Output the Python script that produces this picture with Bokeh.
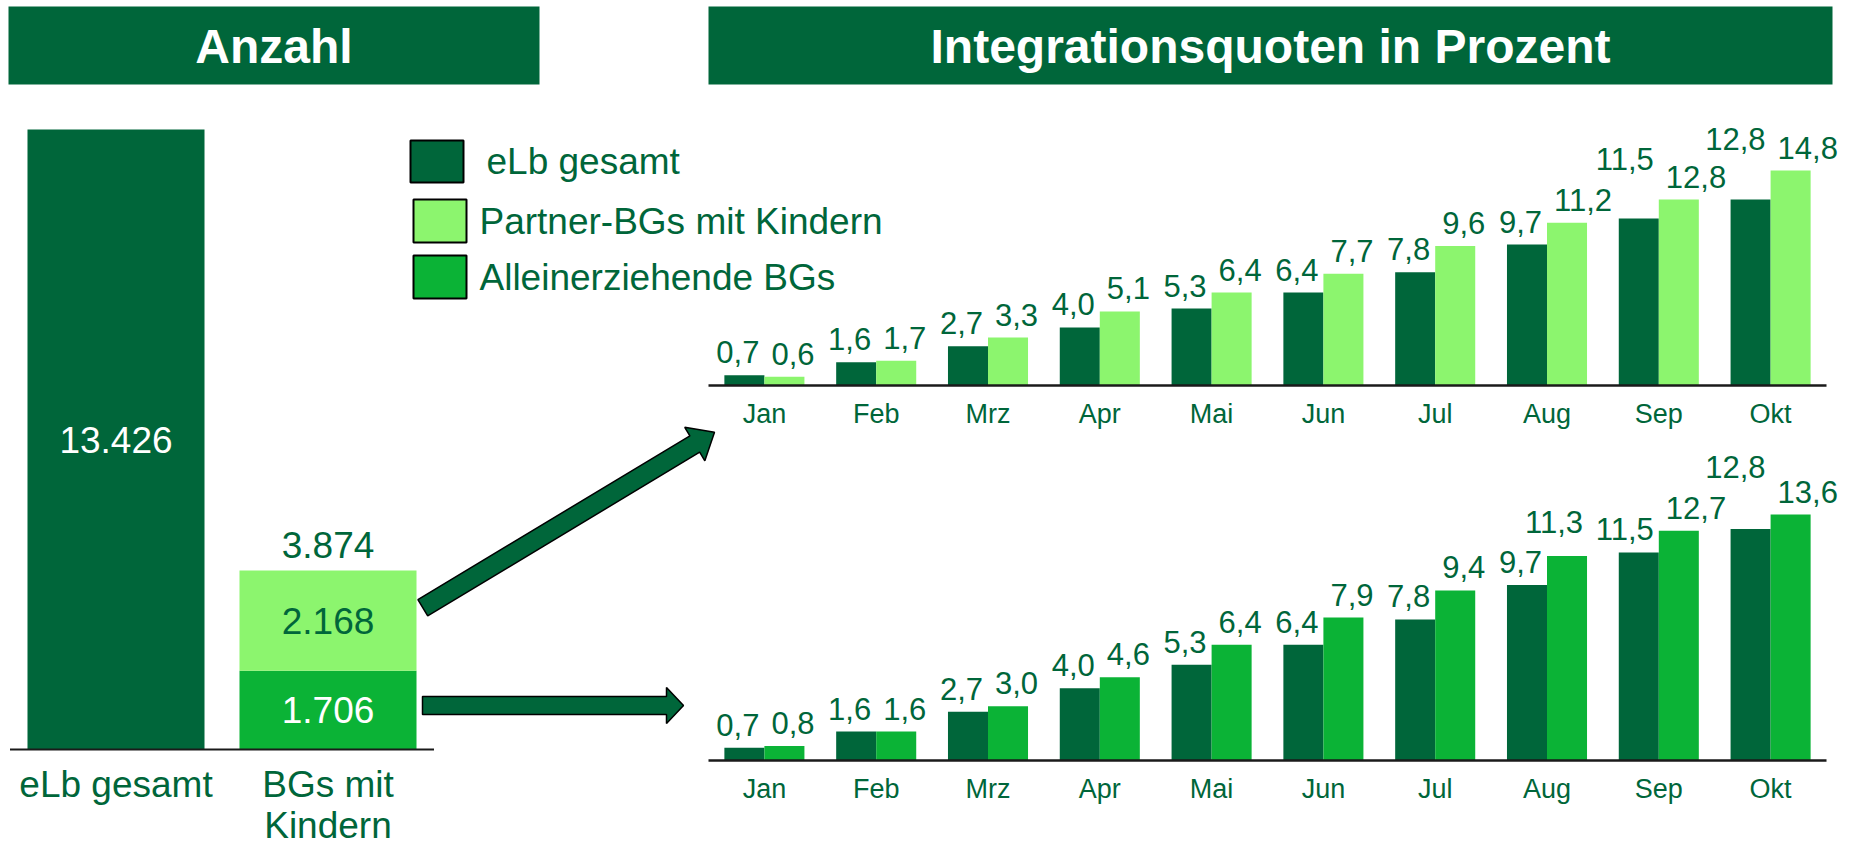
import math
from bokeh.plotting import figure
from bokeh.models import Range1d, ColumnDataSource
from bokeh.core.properties import value
from bokeh.embed import file_html
from bokeh.resources import INLINE

# ---------------- data ----------------
headers = ["Anzahl", "Integrationsquoten in Prozent"]
series_names = ["eLb gesamt", "Partner-BGs mit Kindern", "Alleinerziehende BGs"]
count_categories = ["eLb gesamt", "BGs mit\nKindern"]
count_elb = [13426]
count_allein = [1706]
count_partner = [2168]

months = ["Jan", "Feb", "Mrz", "Apr", "Mai", "Jun", "Jul", "Aug", "Sep", "Okt"]
rate_elb = [0.7, 1.6, 2.7, 4.0, 5.3, 6.4, 7.8, 9.7, 11.5, 12.8]
rate_partner = [0.6, 1.7, 3.3, 5.1, 6.4, 7.7, 9.6, 11.2, 12.8, 14.8]
rate_allein = [0.8, 1.6, 3.0, 4.6, 6.4, 7.9, 9.4, 11.3, 12.7, 13.6]

# ---------------- style / layout ----------------
DARK = "#00663A"
LIGHT = "#8CF56E"
MID = "#0BB336"
INK = "#00663A"
AXIS = "#1a1a1a"
FONT = value("Liberation Sans")
PAGE = 0            # canvas origin on the page
W, H = 1857, 845    # canvas size

def de_int(v):
    return f"{v:,}".replace(",", ".")

def de_dec(v):
    return f"{v:.1f}".replace(".", ",")

def x_map(p0, k):
    """x range so that value v sits at page-x p0 + k*v"""
    start = (PAGE - p0) / k
    return Range1d(start, start + W / k)

def y_map(base, k):
    """y range so that value v sits at page-y base - k*v"""
    start = (base - (PAGE + H)) / k
    return Range1d(start, start + H / k)

p = figure(width=W, height=H, x_range=Range1d(PAGE, PAGE + W),
           y_range=Range1d(PAGE + H, PAGE), output_backend="svg",
           toolbar_location=None, min_border=0, x_axis_location=None,
           y_axis_location=None, outline_line_color=None,
           background_fill_color="white", border_fill_color="white")
p.grid.grid_line_color = None

# chart geometry (page pixels)
LEFT_X0, LEFT_PITCH, LEFT_BASE, LEFT_TOP = 9.5, 212.0, 749.0, 129.0
R_X0, R_PITCH = 708.0, 111.8
TOP_BASE, TOP_TOP = 385.0, 170.0
BOT_BASE, BOT_TOP = 760.0, 514.0

p.extra_x_ranges = {
    "L": x_map(LEFT_X0 + LEFT_PITCH / 2, LEFT_PITCH),
    "R": x_map(R_X0 + R_PITCH / 2, R_PITCH),
}
p.extra_y_ranges = {
    "L": y_map(LEFT_BASE, (LEFT_BASE - LEFT_TOP) / max(count_elb)),
    "T": y_map(TOP_BASE, (TOP_BASE - TOP_TOP) / max(rate_elb + rate_partner)),
    "B": y_map(BOT_BASE, (BOT_BASE - BOT_TOP) / max(rate_elb + rate_allein)),
}

# ---------------- headers ----------------
hdr_boxes = [(8, 539), (708, 1832)]
for (l, r), t in zip(hdr_boxes, headers):
    p.quad(left=[l], right=[r], top=[6], bottom=[84], fill_color=DARK, line_color=None)
    p.text(x=[(l + r) / 2], y=[46], text=[t], text_font=FONT, text_font_size="48px",
           text_font_style="bold", text_color="white", text_align="center",
           text_baseline="middle")

# ---------------- left chart: Anzahl ----------------
cx = [0, 1]
bw = 0.835
p.vbar(x=[cx[0]], bottom=[0], top=count_elb, width=bw, fill_color=DARK, line_color=None,
       x_range_name="L", y_range_name="L")
p.vbar(x=[cx[1]], bottom=[0], top=count_allein, width=bw, fill_color=MID, line_color=None,
       x_range_name="L", y_range_name="L")
p.vbar(x=[cx[1]], bottom=count_allein, top=[count_allein[0] + count_partner[0]], width=bw,
       fill_color=LIGHT, line_color=None, x_range_name="L", y_range_name="L")
p.segment(x0=[-0.5], x1=[1.5], y0=[0], y1=[0], line_color=AXIS, line_width=2,
          x_range_name="L", y_range_name="L")

total_bg = count_allein[0] + count_partner[0]
left_lbl = ColumnDataSource(dict(
    x=[cx[0], cx[1], cx[1]],
    y=[count_elb[0] / 2, count_allein[0] / 2, count_allein[0] + count_partner[0] / 2],
    t=[de_int(count_elb[0]), de_int(count_allein[0]), de_int(count_partner[0])],
    c=["white", "white", INK],
))
p.text(x="x", y="y", text="t", text_color="c", source=left_lbl, text_font=FONT,
       text_font_size="37px", text_align="center", text_baseline="middle",
       x_range_name="L", y_range_name="L")
p.text(x=[cx[1]], y=[total_bg], text=[de_int(total_bg)], text_font=FONT, text_font_size="37px",
       text_color=INK, text_align="center", text_baseline="middle", y_offset=-26,
       x_range_name="L", y_range_name="L")
p.text(x=cx, y=[0, 0], text=count_categories, text_font=FONT, text_font_size="37px",
       text_color=INK, text_align="center", text_baseline="top", y_offset=14,
       text_line_height=1.0, x_range_name="L", y_range_name="L")

# ---------------- legend (drawn) ----------------
leg_boxes = [(410, 463, 140, 182), (413, 466, 199, 242), (413, 466, 255, 298)]
leg_text_x = [486, 479, 479]
for (l, r, t, b), col, name, tx in zip(leg_boxes, [DARK, LIGHT, MID], series_names, leg_text_x):
    p.quad(left=[l], right=[r], top=[t], bottom=[b], fill_color=col, line_color="black",
           line_width=2)
    p.text(x=[tx], y=[(t + b) / 2], text=[name], text_font=FONT, text_font_size="37px",
           text_color=INK, text_align="left", text_baseline="middle")

# ---------------- right charts ----------------
OFF = 0.179
BW = 0.358

def rate_chart(yname, second, second_color, nudges):
    idx = list(range(len(months)))
    xa = [i - OFF for i in idx]
    xb = [i + OFF for i in idx]
    p.vbar(x=xa, top=rate_elb, width=BW, fill_color=DARK, line_color=None,
           x_range_name="R", y_range_name=yname)
    p.vbar(x=xb, top=second, width=BW, fill_color=second_color, line_color=None,
           x_range_name="R", y_range_name=yname)
    p.segment(x0=[-0.5], x1=[len(months) - 0.5], y0=[0], y1=[0], line_color=AXIS,
              line_width=2.5, x_range_name="R", y_range_name=yname)
    p.text(x=idx, y=[0] * len(idx), text=months, text_font=FONT, text_font_size="27px",
           text_color=INK, text_align="center", text_baseline="middle", y_offset=28,
           x_range_name="R", y_range_name=yname)
    for key, xs, vals, align, dx0 in (("a", xa, rate_elb, "right", 15),
                                      ("b", xb, second, "left", -13)):
        dxs = [dx0 + nudges.get((key, i), (0, 0))[0] for i in idx]
        dys = [-23 - nudges.get((key, i), (0, 0))[1] for i in idx]
        src = ColumnDataSource(dict(x=xs, y=vals, t=[de_dec(v) for v in vals],
                                    dx=dxs, dy=dys))
        p.text(x="x", y="y", text="t", x_offset="dx", y_offset="dy", source=src,
               text_font=FONT, text_font_size="31px", text_color=INK, text_align=align,
               text_baseline="middle", x_range_name="R", y_range_name=yname)

rate_chart("T", rate_partner, LIGHT, {("a", 8): (0, 36), ("a", 9): (0, 38)})
rate_chart("B", rate_allein, MID, {("b", 7): (-29, 11), ("a", 9): (0, 39)})

# ---------------- arrows ----------------
def block_arrow(tail, tip, sw, hw, hl):
    dx, dy = tip[0] - tail[0], tip[1] - tail[1]
    L = math.hypot(dx, dy)
    ux, uy = dx / L, dy / L
    nx, ny = -uy, ux
    bx, by = tip[0] - ux * hl, tip[1] - uy * hl
    pts = [(tail[0] + nx * sw / 2, tail[1] + ny * sw / 2),
           (bx + nx * sw / 2, by + ny * sw / 2),
           (bx + nx * hw / 2, by + ny * hw / 2),
           tip,
           (bx - nx * hw / 2, by - ny * hw / 2),
           (bx - nx * sw / 2, by - ny * sw / 2),
           (tail[0] - nx * sw / 2, tail[1] - ny * sw / 2)]
    return [q[0] for q in pts], [q[1] for q in pts]

arrows = [block_arrow((422.3, 607.2), (714.0, 431.7), 19, 39, 23),
          block_arrow((422.0, 705.0), (683.0, 705.0), 18, 36, 17)]
p.patches(xs=[a[0] for a in arrows], ys=[a[1] for a in arrows], fill_color=DARK,
          line_color="black", line_width=1.5)

open("out.html", "w").write(file_html(p, INLINE))
